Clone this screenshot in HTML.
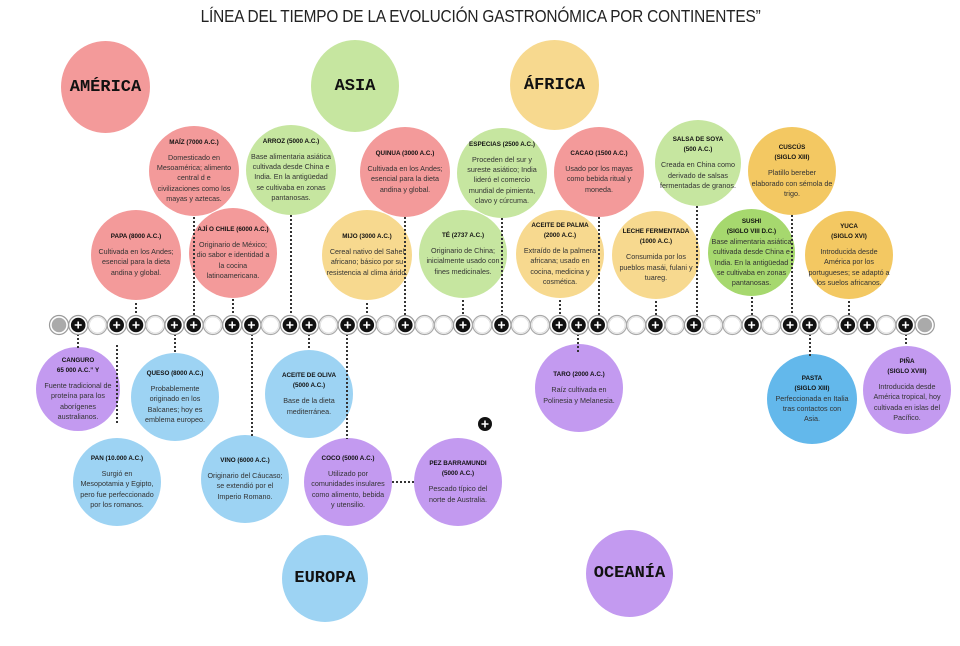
<!DOCTYPE html>
<html><head><meta charset="utf-8"><style>
body{margin:0;width:960px;height:646px;background:#fff;position:relative;overflow:hidden;font-family:"Liberation Sans",sans-serif}
.t{position:absolute;top:6px;left:0;width:960px;text-align:center;font-size:17.5px;color:#222;letter-spacing:-0.2px;transform:scaleX(0.88);transform-origin:485px 0}
.b{position:absolute;border-radius:50%;display:flex;flex-direction:column;align-items:center;justify-content:center;text-align:center;font-size:7.2px;line-height:1.4;color:#333;box-sizing:border-box;padding:0 3px}
.b b{font-size:6.3px;color:#111;margin-bottom:5px;line-height:1.6}
.c{position:absolute;border-radius:50%;display:flex;align-items:center;justify-content:center;font-family:"Liberation Mono",monospace;font-weight:bold;font-size:17px;color:#111}
.r{background:#f39a9a}.g{background:#c6e6a0}.y{background:#f7d98f}.bl{background:#9dd3f3}.p{background:#c39af0}.gg{background:#a6d86e}.yy{background:#f3c862}.bb{background:#63b8eb}
svg{position:absolute;left:0;top:0}
</style></head><body>
<div class="t">LÍNEA DEL TIEMPO DE LA EVOLUCIÓN GASTRONÓMICA POR CONTINENTES”</div>

<div class="c r" style="left:61px;top:41px;width:89px;height:92px">AMÉRICA</div>
<div class="c g" style="left:311px;top:40px;width:88px;height:92px">ASIA</div>
<div class="c y" style="left:510px;top:40px;width:89px;height:90px">ÁFRICA</div>
<div class="c bl" style="left:282px;top:535px;width:86px;height:87px">EUROPA</div>
<div class="c p" style="left:586px;top:530px;width:87px;height:87px">OCEANÍA</div>

<div class="b r" style="left:149px;top:126px;width:90px;height:90px"><b>MAÍZ (7000 A.C.)</b>Domesticado en<br>Mesoamérica; alimento<br>central d e<br>civilizaciones como los<br>mayas y aztecas.</div>
<div class="b g" style="left:246px;top:125px;width:90px;height:90px"><b>ARROZ (5000 A.C.)</b>Base alimentaria asiática<br>cultivada desde China e<br>India. En la antigüedad<br>se cultivaba en zonas<br>pantanosas.</div>
<div class="b r" style="left:360px;top:127px;width:90px;height:90px"><b>QUINUA (3000 A.C.)</b>Cultivada en los Andes;<br>esencial para la dieta<br>andina y global.</div>
<div class="b g" style="left:457px;top:128px;width:90px;height:90px"><b>ESPECIAS (2500 A.C.)</b>Proceden del sur y<br>sureste asiático; India<br>lideró el comercio<br>mundial de pimienta,<br>clavo y cúrcuma.</div>
<div class="b r" style="left:554px;top:127px;width:90px;height:90px"><b>CACAO (1500 A.C.)</b>Usado por los mayas<br>como bebida ritual y<br>moneda.</div>
<div class="b g" style="left:655px;top:120px;width:86px;height:86px"><b>SALSA DE SOYA<br>(500 A.C.)</b>Creada en China como<br>derivado de salsas<br>fermentadas de granos.</div>
<div class="b yy" style="left:748px;top:127px;width:88px;height:88px"><b>CUSCÚS<br>(SIGLO XIII)</b>Platillo bereber<br>elaborado con sémola de<br>trigo.</div>

<div class="b r" style="left:91px;top:210px;width:90px;height:90px"><b>PAPA (8000 A.C.)</b>Cultivada en los Andes;<br>esencial para la dieta<br>andina y global.</div>
<div class="b r" style="left:189px;top:208px;width:88px;height:90px"><b>AJÍ O CHILE (6000 A.C.)</b>Originario de México;<br>dio sabor e identidad a<br>la cocina<br>latinoamericana.</div>
<div class="b y" style="left:322px;top:210px;width:90px;height:90px"><b>MIJO (3000 A.C.)</b>Cereal nativo del Sahel<br>africano; básico por su<br>resistencia al clima árido.</div>
<div class="b g" style="left:419px;top:210px;width:88px;height:88px"><b>TÉ (2737 A.C.)</b>Originario de China;<br>inicialmente usado con<br>fines medicinales.</div>
<div class="b y" style="left:516px;top:210px;width:88px;height:88px"><b>ACEITE DE PALMA<br>(2000 A.C.)</b>Extraído de la palmera<br>africana; usado en<br>cocina, medicina y<br>cosmética.</div>
<div class="b y" style="left:612px;top:211px;width:88px;height:88px"><b>LECHE FERMENTADA<br>(1000 A.C.)</b>Consumida por los<br>pueblos masái, fulani y<br>tuareg.</div>
<div class="b gg" style="left:708px;top:209px;width:87px;height:87px"><b style="margin-bottom:0">SUSHI<br>(SIGLO VIII D.C.)</b>Base alimentaria asiática<br>cultivada desde China e<br>India. En la antigüedad<br>se cultivaba en zonas<br>pantanosas.</div>
<div class="b yy" style="left:805px;top:211px;width:88px;height:88px"><b>YUCA<br>(SIGLO XVI)</b>Introducida desde<br>América por los<br>portugueses; se adaptó a<br>los suelos africanos.</div>

<div class="b p" style="left:36px;top:347px;width:84px;height:84px"><b>CANGURO<br>65 000 A.C.” Y</b>Fuente tradicional de<br>proteína para los<br>aborígenes<br>australianos.</div>
<div class="b bl" style="left:131px;top:353px;width:88px;height:88px"><b>QUESO (8000 A.C.)</b>Probablemente<br>originado en los<br>Balcanes; hoy es<br>emblema europeo.</div>
<div class="b bl" style="left:265px;top:350px;width:88px;height:88px"><b>ACEITE DE OLIVA<br>(5000 A.C.)</b>Base de la dieta<br>mediterránea.</div>
<div class="b bl" style="left:73px;top:438px;width:88px;height:88px"><b>PAN (10.000 A.C.)</b>Surgió en<br>Mesopotamia y Egipto,<br>pero fue perfeccionado<br>por los romanos.</div>
<div class="b bl" style="left:201px;top:435px;width:88px;height:88px"><b>VINO (6000 A.C.)</b>Originario del Cáucaso;<br>se extendió por el<br>Imperio Romano.</div>
<div class="b p" style="left:304px;top:438px;width:88px;height:88px"><b>COCO (5000 A.C.)</b>Utilizado por<br>comunidades insulares<br>como alimento, bebida<br>y utensilio.</div>
<div class="b p" style="left:414px;top:438px;width:88px;height:88px"><b>PEZ BARRAMUNDI<br>(5000 A.C.)</b>Pescado típico del<br>norte de Australia.</div>
<div class="b p" style="left:535px;top:344px;width:88px;height:88px"><b>TARO (2000 A.C.)</b>Raíz cultivada en<br>Polinesia y Melanesia.</div>
<div class="b bb" style="left:767px;top:354px;width:90px;height:90px"><b style="margin-bottom:0">PASTA<br>(SIGLO XIII)</b>Perfeccionada en Italia<br>tras contactos con<br>Asia.</div>
<div class="b p" style="left:863px;top:346px;width:88px;height:88px"><b>PIÑA<br>(SIGLO XVIII)</b>Introducida desde<br>América tropical, hoy<br>cultivada en islas del<br>Pacífico.</div>

<svg width="960" height="646" viewBox="0 0 960 646">
<defs>
<g id="P"><circle r="9.5" fill="#fff" stroke="#9a9a9a" stroke-width="1.2"/><circle r="7.3" fill="#111"/><path d="M-3.5 0H3.5M0 -3.5V3.5" stroke="#fff" stroke-width="1.6"/></g>
<g id="E"><circle r="9.5" fill="#fff" stroke="#aaa" stroke-width="1.2"/><circle r="8" fill="none" stroke="#ddd" stroke-width="0.8"/></g>
<g id="G"><circle r="9.5" fill="#fff" stroke="#9a9a9a" stroke-width="1.2"/><circle r="7.3" fill="#aaa"/></g>
</defs>
<g stroke="#333" stroke-width="2" stroke-dasharray="2 2" fill="none">
<path d="M194 217V316M291 215V316M405 217V316M502 218V316M599 217V316M697 206V316M792 215V316"/>
<path d="M136 303V316M233 299V316M367 303V316M463 300V316M560 300V316M656 301V316M752 297V316M849 301V316"/>
<path d="M78 334V348M117 345V424M175 334V354M309 334V350M252 334V437M347 334V439M578 334V352M810 334V356M906 334V346M392 482H414"/>
</g>
<use href="#G" x="59" y="325"/><use href="#P" x="78.2" y="325"/><use href="#E" x="97.5" y="325"/><use href="#P" x="116.7" y="325"/><use href="#P" x="136" y="325"/><use href="#E" x="155.2" y="325"/><use href="#P" x="174.4" y="325"/><use href="#P" x="193.7" y="325"/><use href="#E" x="212.9" y="325"/><use href="#P" x="232.2" y="325"/><use href="#P" x="251.4" y="325"/><use href="#E" x="270.6" y="325"/><use href="#P" x="289.9" y="325"/><use href="#P" x="309.1" y="325"/><use href="#E" x="328.4" y="325"/><use href="#P" x="347.6" y="325"/><use href="#P" x="366.8" y="325"/><use href="#E" x="386.1" y="325"/><use href="#P" x="405.3" y="325"/><use href="#E" x="424.6" y="325"/><use href="#E" x="443.8" y="325"/><use href="#P" x="463" y="325"/><use href="#E" x="482.3" y="325"/><use href="#P" x="501.5" y="325"/><use href="#E" x="520.8" y="325"/><use href="#E" x="540" y="325"/><use href="#P" x="559.2" y="325"/><use href="#P" x="578.5" y="325"/><use href="#P" x="597.7" y="325"/><use href="#E" x="617" y="325"/><use href="#E" x="636.2" y="325"/><use href="#P" x="655.4" y="325"/><use href="#E" x="674.7" y="325"/><use href="#P" x="693.9" y="325"/><use href="#E" x="713.2" y="325"/><use href="#E" x="732.4" y="325"/><use href="#P" x="751.6" y="325"/><use href="#E" x="770.9" y="325"/><use href="#P" x="790.1" y="325"/><use href="#P" x="809.4" y="325"/><use href="#E" x="828.6" y="325"/><use href="#P" x="847.8" y="325"/><use href="#P" x="867.1" y="325"/><use href="#E" x="886.3" y="325"/><use href="#P" x="905.6" y="325"/><use href="#G" x="924.8" y="325"/>
<circle cx="485" cy="424" r="7" fill="#111"/><path d="M481.5 424H488.5M485 420.5V427.5" stroke="#fff" stroke-width="1.6"/>
</svg>
</body></html>
